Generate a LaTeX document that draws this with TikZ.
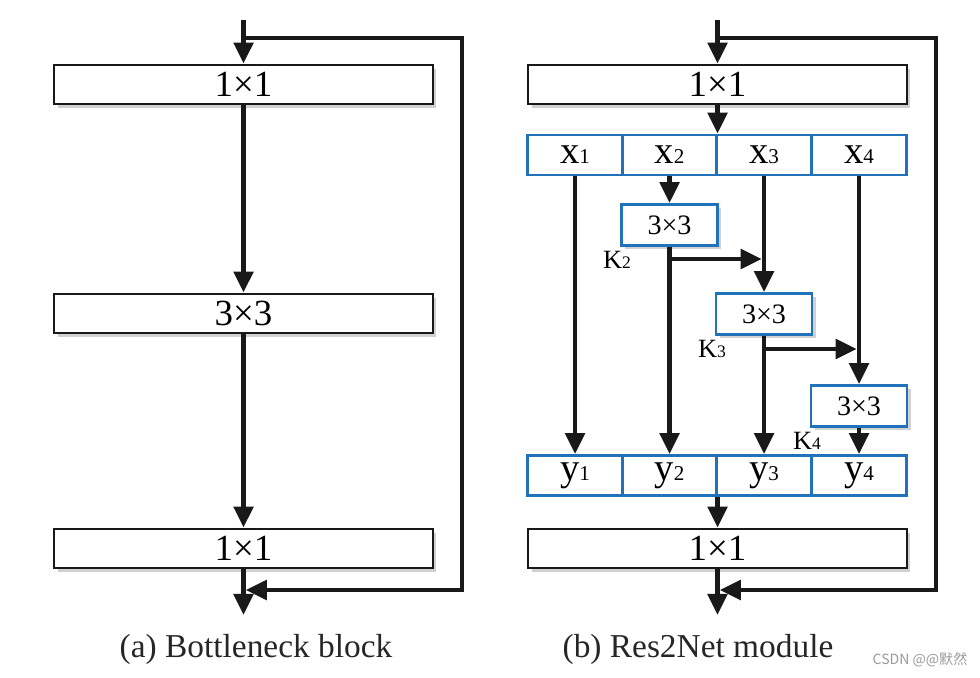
\documentclass[tikz,border=0pt]{standalone}
\usepackage{fontspec}
\setmainfont{Liberation Serif}
\newfontfamily\cjkwm{Noto Sans CJK SC}
\usetikzlibrary{arrows.meta,shadows}
\definecolor{boxblue}{RGB}{32,114,186}
\newcommand{\celltxt}[2]{#1{\fontsize{12}{12}\selectfont #2}}
\begin{document}
\begin{tikzpicture}[x=0.02cm,y=-0.02cm,
  shd/.style={drop shadow={shadow xshift=2pt,shadow yshift=-2pt,opacity=0.18,fill=black}},
  widebox/.style={draw=black!90,line width=1.6pt,fill=white,shd,minimum width=7.58cm,minimum height=0.78cm,inner sep=0pt,font=\fontsize{21}{21}\selectfont},
  cellbox/.style={draw=boxblue,line width=1.6pt,fill=white,minimum width=1.89cm,minimum height=0.8cm,inner sep=0pt,font=\fontsize{22}{22}\selectfont},
  convbox/.style={draw=boxblue,line width=1.6pt,fill=white,shd,minimum width=1.92cm,minimum height=0.82cm,inner sep=0pt,font=\fontsize{16}{16}\selectfont},
  klab/.style={inner sep=0pt,font=\fontsize{15}{15}\selectfont},
  arr/.style={-{Triangle[length=12pt,width=11pt]},line width=2.6pt,draw=black!90},
  captxt/.style={inner sep=0pt,font=\fontsize{19}{19}\selectfont,text=black!85}]
\useasboundingbox (0,0) rectangle (980,677);

% ---------- (a) Bottleneck block ----------
\node[widebox] (a1) at (243.5,84.5) {1×1};
\node[widebox] (a2) at (243.5,313.5) {3×3};
\node[widebox] (a3) at (243.5,548.5) {1×1};
\coordinate (ain) at (a1.north |- 0,20);
\coordinate (asplit) at (a1.north |- 0,38);
\coordinate (ar1) at (462,38);
\coordinate (ar2) at (462,590);
\coordinate (ajoin) at (a3.south |- 0,590);
\coordinate (aout) at (a3.south |- 0,615);
\draw[arr] (ain) -- (a1.north);
\draw[arr] (a1.south) -- (a2.north);
\draw[arr] (a2.south) -- (a3.north);
\draw[arr] (a3.south) -- (aout);
\draw[arr] (asplit) -- (ar1) -- (ar2) -- ([xshift=1.3pt]ajoin);
\node[captxt] (acap) at (256,649) {(a) Bottleneck block};

% ---------- (b) Res2Net module ----------
\node[widebox] (b1) at (717.5,84.5) {1×1};
\node[cellbox] (x1) at (575,155) {\celltxt{x}{1}};
\node[cellbox] (x2) at (669.5,155) {\celltxt{x}{2}};
\node[cellbox] (x3) at (764,155) {\celltxt{x}{3}};
\node[cellbox] (x4) at (859,155) {\celltxt{x}{4}};
\node[convbox] (k2) at (669.5,225) {3×3};
\node[convbox] (k3) at (764,314) {3×3};
\node[convbox] (k4) at (859,406) {3×3};
\node[klab] (k2l) at (617,260) {K{\fontsize{10}{10}\selectfont 2}};
\node[klab] (k3l) at (712,349) {K{\fontsize{10}{10}\selectfont 3}};
\node[klab] (k4l) at (807,441) {K{\fontsize{10}{10}\selectfont 4}};
\node[cellbox] (y1) at (575,475.5) {\celltxt{y}{1}};
\node[cellbox] (y2) at (669.5,475.5) {\celltxt{y}{2}};
\node[cellbox] (y3) at (764,475.5) {\celltxt{y}{3}};
\node[cellbox] (y4) at (859,475.5) {\celltxt{y}{4}};
\node[widebox] (b3) at (717.5,548.5) {1×1};
\coordinate (bin) at (b1.north |- 0,20);
\coordinate (bsplit) at (b1.north |- 0,38);
\coordinate (br1) at (936,38);
\coordinate (br2) at (936,590);
\coordinate (bjoin) at (b3.south |- 0,590);
\coordinate (bout) at (b3.south |- 0,615);
\coordinate (xtop) at (b1.south |- x1.north);
\coordinate (ybot) at (b3.north |- y1.south);
\coordinate (h2) at (k2.south |- 0,259);
\coordinate (h2e) at (x3.south |- 0,259);
\coordinate (h3) at (k3.south |- 0,349);
\coordinate (h3e) at (x4.south |- 0,349);

\draw[arr] (bin) -- (b1.north);
\draw[arr] (b1.south) -- (xtop);
\draw[arr] (x1.south) -- (y1.north);
\draw[arr] (x2.south) -- (k2.north);
\draw[arr] (x3.south) -- (k3.north);
\draw[arr] (x4.south) -- (k4.north);
\draw[arr] (k2.south) -- (y2.north);
\draw[arr] (k3.south) -- (y3.north);
\draw[arr] (k4.south) -- (y4.north);
\draw[arr] (h2) -- ([xshift=-1.3pt]h2e);
\draw[arr] (h3) -- ([xshift=-1.3pt]h3e);
\draw[arr] (ybot) -- (b3.north);
\draw[arr] (b3.south) -- (bout);
\draw[arr] (bsplit) -- (br1) -- (br2) -- ([xshift=1.3pt]bjoin);
\node[captxt] (bcap) at (698,649) {(b) Res2Net module};

% watermark
\node[inner sep=0pt,text=black!40,font=\cjkwm\fontsize{8}{8}\selectfont] (wm) at (920,660) {CSDN @@默然};
\end{tikzpicture}
\end{document}
